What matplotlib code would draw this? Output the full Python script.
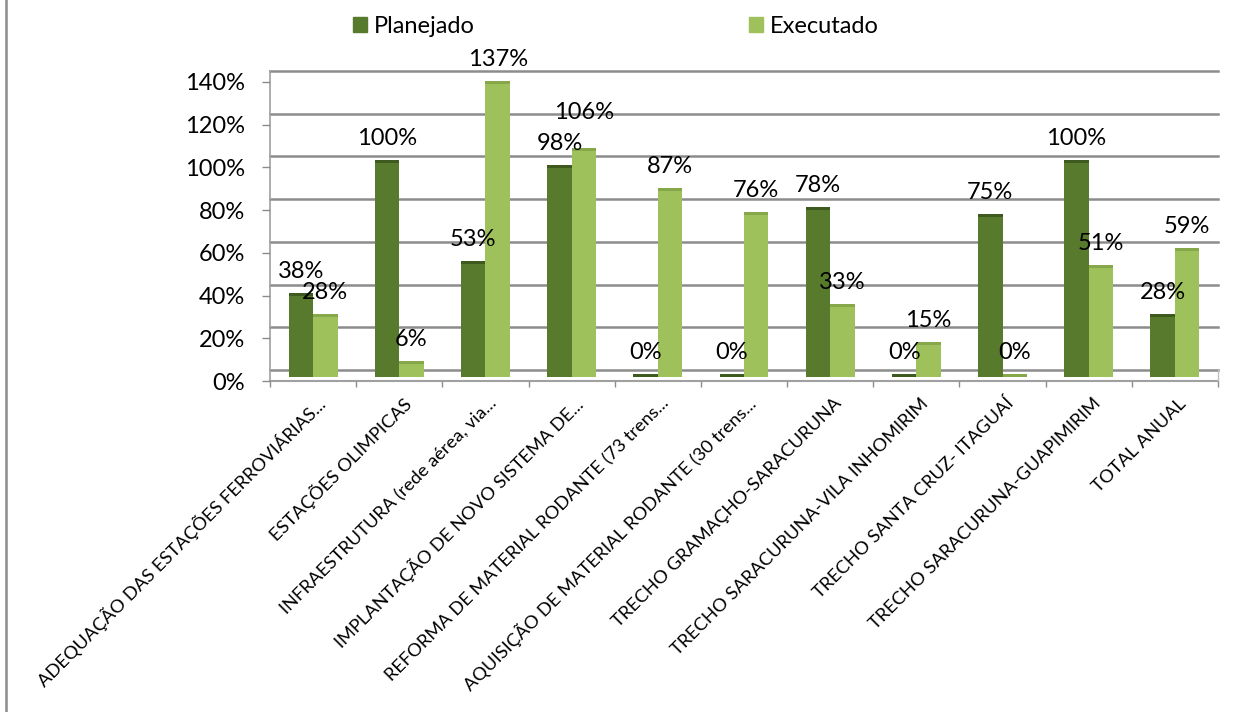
import matplotlib
matplotlib.use("Agg")
import matplotlib.pyplot as plt
import numpy as np
from matplotlib.patches import Patch
from matplotlib.lines import Line2D
from matplotlib.transforms import ScaledTranslation

# data
categorias = [
    "ADEQUAÇÃO DAS ESTAÇÕES FERROVIÁRIAS...",
    "ESTAÇÕES OLIMPICAS",
    "INFRAESTRUTURA (rede aérea, via...",
    "IMPLANTAÇÃO DE NOVO SISTEMA DE...",
    "REFORMA DE MATERIAL RODANTE (73 trens...",
    "AQUISIÇÃO DE MATERIAL RODANTE (30 trens...",
    "TRECHO GRAMAÇHO-SARACURUNA",
    "TRECHO SARACURUNA-VILA INHOMIRIM",
    "TRECHO SANTA CRUZ- ITAGUAÍ",
    "TRECHO SARACURUNA-GUAPIMIRIM",
    "TOTAL ANUAL",
]
planejado = [38, 100, 53, 98, 0, 0, 78, 0, 75, 100, 28]
executado = [28, 6, 137, 106, 87, 76, 33, 15, 0, 51, 59]
yticks = [0, 20, 40, 60, 80, 100, 120, 140]
series = ["Planejado", "Executado"]

# style
cor_escura = "#587a2d"
cor_clara = "#9fc15b"
topo_escura = "#3f5a1e"
topo_clara = "#86a84a"
cinza = "#8c8c8c"
plt.rcParams['font.family'] = ['Lato', 'DejaVu Sans']

W, H = 1250, 712
fig = plt.figure(figsize=(W / 100, H / 100), dpi=100)
ax = fig.add_axes([270 / W, 1 - 381 / H, (1218 - 270) / W, (381 - 71) / H])
px_per_unit = 299 / 140.0
ax.set_ylim(0, 310 / px_per_unit)
ax.set_xlim(-0.5, len(categorias) - 0.5)
for s in ax.spines.values():
    s.set_visible(False)

# pseudo 3D offsets (back wall, bar depth)
back = ax.transData + ScaledTranslation(0, 0.11, fig.dpi_scale_trans)
mid = ax.transData + ScaledTranslation(0, 0.04, fig.dpi_scale_trans)

# back wall gridlines
for v in yticks:
    ax.plot([-0.5, len(categorias) - 0.5], [v, v], color=cinza, lw=1.8,
            transform=back, clip_on=False, zorder=1)
ax.plot([-0.5, -0.5], [0, 310 / px_per_unit], color="#a0a0a0", lw=1.2,
        clip_on=False, zorder=1)
ax.plot([-0.5, len(categorias) - 0.5], [0, 0], color="#a0a0a0", lw=1.5,
        clip_on=False, zorder=1)
ax.plot([len(categorias) - 0.5] * 2, [0, 11 / px_per_unit], color="#c0c0c0",
        lw=1.0, clip_on=False, zorder=1)

x = np.arange(len(categorias))
w = 0.284
face = 3 / px_per_unit
for vals, outros, off, cor, topo in [
        (planejado, executado, -w / 2, cor_escura, topo_escura),
        (executado, planejado, w / 2, cor_clara, topo_clara)]:
    bars = ax.bar(x + off, vals, w, color=cor, zorder=3)
    tops = ax.bar(x + off, [face] * len(vals), w, bottom=vals, color=topo, zorder=3)
    for p in list(bars) + list(tops):
        p.set_transform(mid)
        p.set_clip_on(False)
    for xi, v, o in zip(x + off, vals, outros):
        dy = 22
        # lift the higher label when the pair would collide
        if v > o > 0 and (v - o) * px_per_unit < 20:
            dy += 14
        ax.annotate(f"{v}%", (xi, v), xytext=(0, dy), textcoords="offset pixels",
                    ha="center", va="baseline", fontsize=17, zorder=5,
                    annotation_clip=False)

# axes ticks
ax.set_yticks(yticks, [f"{v}%" for v in yticks])
ax.tick_params(axis="y", length=6, width=1, color=cinza, pad=12, labelsize=17)
ax.set_xticks(np.arange(len(categorias) + 1) - 0.5, [""] * (len(categorias) + 1))
ax.tick_params(axis="x", length=4, width=1, color=cinza)

for xi, nome in zip(x, categorias):
    ax.annotate(nome, (xi, 0), xytext=(9, -20), textcoords="offset pixels",
                ha="right", va="center", rotation=45, rotation_mode="anchor",
                fontsize=13.2, annotation_clip=False)

# legend
handles = [Patch(color=cor_escura), Patch(color=cor_clara)]
fig.legend(handles, series, loc="upper left", bbox_to_anchor=(353 / W, 1 - 16 / H),
           ncol=2, frameon=False, fontsize=17, handlelength=0.6, handleheight=0.6,
           handletextpad=0.3, columnspacing=11.6, borderpad=0, borderaxespad=0)

# chart border on the left
fig.add_artist(Line2D([6 / W, 6 / W], [0, 1], transform=fig.transFigure,
                      color="#8c8c8c", lw=1.8))

fig.savefig("out.png", dpi=100)
